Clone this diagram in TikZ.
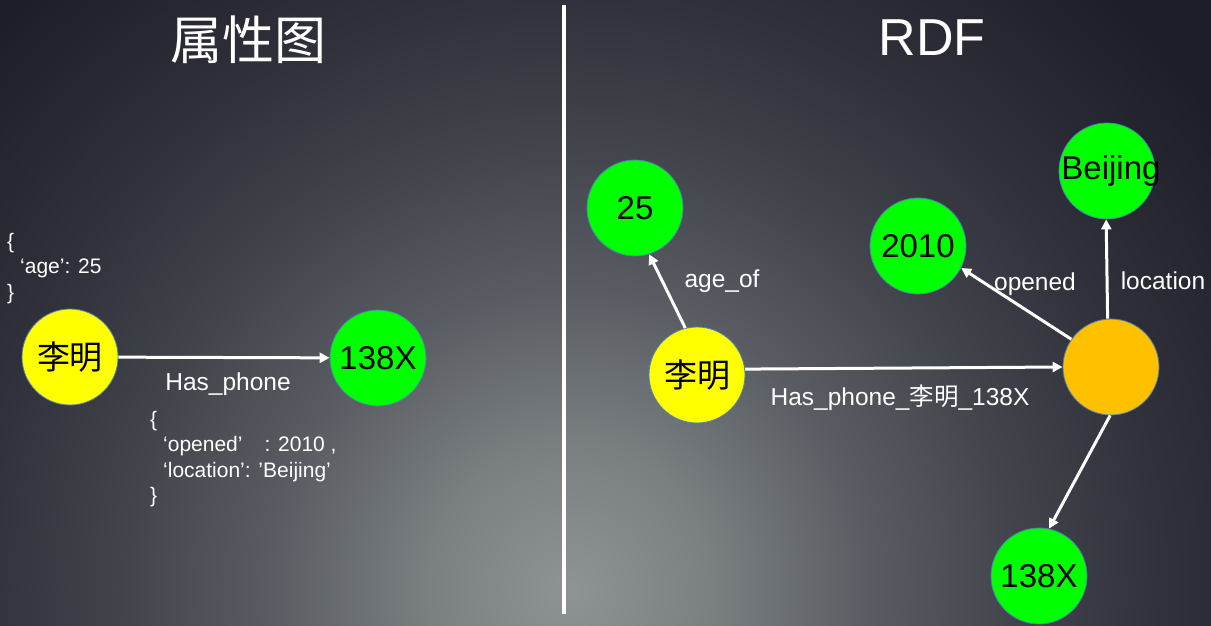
\documentclass[tikz,border=0pt]{standalone}
\usepackage{fontspec}
\setmainfont{Liberation Sans}
\newfontfamily\cjk{Noto Sans CJK SC}
\usepackage{xcolor}
\definecolor{bgcore}{HTML}{8E9494}
\definecolor{bgA}{HTML}{7A7F82}
\definecolor{bgB}{HTML}{585C62}
\definecolor{bgC}{HTML}{42444C}
\definecolor{bgD}{HTML}{30313A}
\definecolor{bgE}{HTML}{1E1E29}
\definecolor{nodegreen}{HTML}{00FF00}
\definecolor{nodeyellow}{HTML}{FFFF00}
\definecolor{nodeorange}{HTML}{FFC000}
\definecolor{rimblue}{HTML}{4F7FB5}
\usepackage{tikz}
\usetikzlibrary{arrows.meta, positioning}
% the path box is mapped onto +-25bp of the shading
\pgfdeclareradialshading{bgglow}{\pgfpoint{0bp}{0bp}}{color(0bp)=(bgcore); color(3.6bp)=(bgA); color(7.6bp)=(bgB); color(11.2bp)=(bgC); color(14.8bp)=(bgD); color(20bp)=(bgE); color(50bp)=(bgE)}

\begin{document}
\begin{tikzpicture}[x=1pt, y=-1pt,
  ent/.style={circle, draw=rimblue, line width=0.8pt, minimum size=96pt, inner sep=0pt, text=black, font=\fontsize{33}{33}\selectfont},
  val/.style={ent, fill=nodegreen},
  subj/.style={ent, fill=nodeyellow},
  blank/.style={ent, fill=nodeorange},
  rel/.style={white, line width=3pt, -{Triangle[length=10pt,width=10pt]}},
  lbl/.style={text=white, inner sep=0pt, font=\fontsize{24.5}{24.5}\selectfont},
  prop/.style={text=white, inner sep=0pt, anchor=north west, align=left, font=\fontsize{21}{25.5}\selectfont},
  heading/.style={text=white, inner sep=0pt, font=\fontsize{52}{52}\selectfont}]
  \useasboundingbox (0,0) rectangle (1211,626);
  % background glow
  \begin{scope}
    \clip (0,0) rectangle (1211,626);
    \shade[shading=bgglow] (-430,-410) rectangle (1570,1590);
  \end{scope}
  \draw[white, line width=4pt] (564,5) -- (564,614);
  \node[heading] (ttlpg) at (248,40) {\cjk 属性图};
  \node[heading] (ttlrdf) at (932,38) {RDF};

  % property graph
  \node[subj] (ming) at (70,357) {\cjk 李明};
  \node[val] (phone) at (378,358) {138X};
  \draw[rel] (ming) -- (phone);
  \node[lbl] (hasph) at (228,384) {Has\_phone};
  \node[prop] (ageprop) at (7,233) {\{\\\hspace*{13pt}‘age’: 25\\\}};
  \node[prop] (edgeprop) at (150,411) {\{\\\hspace*{13pt}‘opened’\hspace{22pt}: 2010 ,\\\hspace*{13pt}‘location’: ’Beijing’\\\}};

  % rdf
  \node[subj] (ming2) at (697,375) {\cjk 李明};
  \node[val] (age) at (635,208) {25};
  \node[val] (year) at (918,246) {2010};
  \node[val] (city) at (1107,171) {\makebox[0pt]{\hspace*{8pt}Beijing}};
  \node[blank] (stmt) at (1111,367) {};
  \node[val] (phone2) at (1039,576) {138X};
  \draw[rel] (ming2.104) -- (age.287);
  \draw[rel] (ming2.7) -- (stmt.180);
  \draw[rel] (stmt.145) -- (year.333);
  \draw[rel] (stmt.94) -- (city.269);
  \draw[rel] (stmt.269) -- (phone2.78);
  \node[lbl] (ageof) at (722,281) {age\_of};
  \node[lbl] (opnd) at (1035,284) {opened};
  \node[lbl] (loc) at (1163,281) {location};
  \node[lbl] (hasph2) at (900,398) {Has\_phone\_{\cjk 李明}\_138X};
\end{tikzpicture}
\end{document}
